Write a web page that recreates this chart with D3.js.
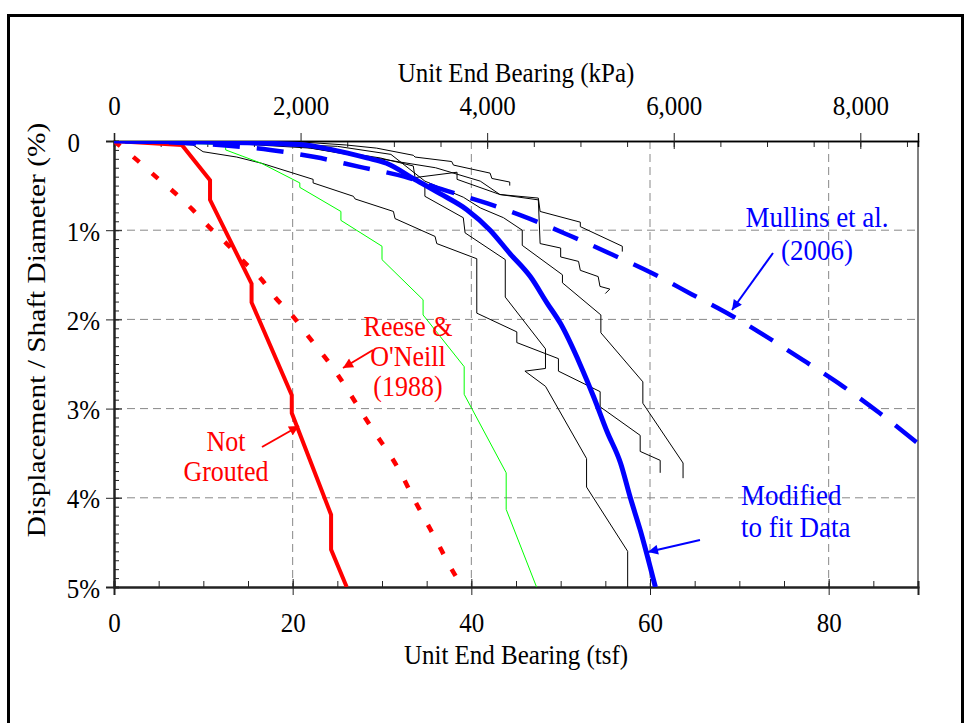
<!DOCTYPE html>
<html>
<head>
<meta charset="utf-8">
<script src="https://cdn.jsdelivr.net/npm/d3@7"></script>
<style>
  body { margin: 0; background: #fff; }
  svg { display: block; font-family: "Liberation Serif", "Times New Roman", serif; }
</style>
</head>
<body>
<svg width="969" height="723"></svg>
<script>
// values: [tsf, displacement %]
var notGrouted = [[0,0],[7.6,0.045],[10.75,0.44],[10.75,0.66],[15.4,1.6],[15.4,1.81],[19.9,2.85],[19.9,3.05],[24.3,4.19],[24.3,4.58],[26.05,5]];
var reeseOneill = [[0,0],[2.65,0.22],[4.8,0.41],[6.8,0.58],[8.8,0.77],[10.6,0.96],[12.6,1.15],[14.5,1.35],[16.5,1.55],[18.1,1.76],[19.9,1.95],[21.6,2.17],[24.9,2.6],[26.4,2.83],[27.9,3.07],[29.4,3.3],[30.9,3.52],[32.2,3.74],[33.5,4.0],[34.8,4.24],[36.1,4.48],[37.4,4.73],[39,5]];
var greenTest = [[0,0],[12.5,0.04],[12.5,0.1],[16.5,0.25],[20.8,0.47],[20.8,0.52],[25.4,0.79],[25.4,0.89],[30,1.18],[30,1.33],[34.6,1.78],[34.6,1.95],[39.2,2.53],[39.2,2.84],[43.9,3.72],[43.9,4.13],[47.3,5.0]];
var testA = [[0,0],[12,0.02],[22,0.08],[29,0.2],[33.5,0.4],[34.8,0.49],[34.8,0.62],[39.1,0.86],[39.3,1.03],[43.8,1.33],[43.8,1.75],[48.3,2.33],[48.3,2.55],[46,2.58],[48.3,2.75],[52.9,3.56],[52.9,3.88],[57.5,4.6],[57.5,5.0]];
var testB = [[0,0],[8.85,0.045],[9.97,0.12],[13.74,0.18],[16.54,0.25],[22.29,0.43],[22.29,0.47],[26.8,0.62],[26.99,0.65],[31.28,0.79],[31.46,0.87],[35.94,1.07],[36.13,1.15],[40.61,1.32],[40.61,1.93],[45.09,2.14],[45.09,2.26],[49.75,2.44],[49.75,2.58],[54.42,2.81],[54.42,2.98],[58.9,3.3],[58.9,3.48],[61.14,3.58],[61.14,3.72]];
var testC = [[0,0],[15,0.02],[25,0.06],[31,0.15],[34.8,0.45],[39.1,0.63],[41,0.75],[43.6,0.86],[45.7,1.0],[45.7,1.17],[50.2,1.5],[50.2,1.59],[54.5,1.95],[54.5,2.15],[59.2,2.7],[59.2,2.94],[63.7,3.61],[63.7,3.78]];
var testD = [[0,0],[12,0.005],[20.8,0.01],[26.0,0.045],[29.4,0.08],[33.5,0.16],[33.7,0.18],[37.8,0.23],[38.0,0.27],[42.1,0.36],[42.3,0.42],[44.3,0.46],[44.3,0.5]];
var testE = [[0,0],[10,0.01],[20.8,0.05],[29.8,0.19],[33.5,0.28],[33.7,0.41],[38.4,0.35],[38.4,0.43],[43.2,0.6],[47.5,0.64],[47.7,0.79],[52.2,0.91],[52.2,0.96],[56.9,1.18],[56.9,1.24]];
var testF = [[0,0],[10,0.01],[20.8,0.06],[29.8,0.2],[36,0.3],[41,0.45],[43.2,0.6],[47.5,0.66],[47.7,1.15],[50,1.2],[50,1.3],[52,1.35],[52.2,1.45],[54.2,1.52],[54.4,1.63],[55.5,1.66],[55,1.71]];
var modifiedFit = [[0,0],[10,0.01],[20.8,0.04],[24.5,0.1],[28.3,0.19],[30.5,0.25],[33.5,0.42],[36.5,0.59],[39.5,0.77],[42.1,1.0],[44.3,1.26],[46.6,1.52],[48.5,1.82],[50.0,2.05],[52.2,2.51],[53.7,2.87],[55.2,3.26],[56.7,3.61],[57.8,4.0],[58.9,4.36],[60.6,5.0]];
var mullins = [[0,0],[12.5,0.05],[17.5,0.1],[22.5,0.18],[27.5,0.29],[32.5,0.4],[37,0.55],[41.8,0.7],[46.5,0.87],[51,1.06],[55.7,1.27],[60.2,1.48],[64.7,1.72],[69,1.95],[73.3,2.21],[77.5,2.48],[81.6,2.75],[85.7,3.05],[90,3.39]];

var tsfTicks = [0, 20, 40, 60, 80];
var kpaTicks = [0, 2000, 4000, 6000, 8000];
var dispTicks = [0, 1, 2, 3, 4, 5];
var kpaPerTsf = 95.76;

var stretch = 1.13; // the source picture is a little taller than wide
var svg = d3.select("svg");
var x = d3.scaleLinear().domain([0, 90]).range([114, 918]);
var xTop = d3.scaleLinear().domain([0, 90 * kpaPerTsf]).range([114, 918]);
var y = d3.scaleLinear().domain([0, 5]).range([141, 587]);

// outer frame
svg.append("rect").attr("x", 8.5).attr("y", 15.5).attr("width", 954).attr("height", 730)
  .attr("fill", "none").attr("stroke", "#000").attr("stroke-width", 3);

// gridlines
var grid = svg.append("g").attr("stroke", "#888").attr("stroke-dasharray", "8,5").attr("stroke-width", 1);
grid.selectAll(".gx").data(tsfTicks.slice(1)).enter().append("line")
  .attr("x1", function(d) { return x(d); }).attr("x2", function(d) { return x(d); })
  .attr("y1", y(0)).attr("y2", y(5));
grid.selectAll(".gy").data(dispTicks.slice(1, 5)).enter().append("line")
  .attr("x1", x(0)).attr("x2", x(90))
  .attr("y1", function(d) { return y(d); }).attr("y2", function(d) { return y(d); });

// right edge
svg.append("line").attr("x1", x(90)).attr("x2", x(90)).attr("y1", y(0)).attr("y2", y(5))
  .attr("stroke", "#555").attr("stroke-width", 1.5);

// axes: minor ticks inside, major ticks crossing
function minorRange(a, b, s) { return d3.range(a, b + s / 2, s); }

var bottomAxis = svg.append("g").attr("transform", "translate(0," + y(5) + ")");
bottomAxis.call(d3.axisBottom(x).tickValues(minorRange(0, 90, 5)).tickSize(-6).tickFormat(""));
var bottomMajor = bottomAxis.append("g")
  .call(d3.axisBottom(x).tickValues(tsfTicks).tickSize(8).tickFormat(d3.format("d")));

var topAxis = svg.append("g").attr("transform", "translate(0," + y(0) + ")");
topAxis.call(d3.axisTop(xTop).tickValues(minorRange(0, 8500, 500)).tickSize(-6).tickFormat(""));
var topMajor = topAxis.append("g")
  .call(d3.axisTop(xTop).tickValues(kpaTicks).tickSize(8).tickFormat(d3.format(",d")));

var leftAxis = svg.append("g").attr("transform", "translate(" + x(0) + ",0)");
leftAxis.call(d3.axisLeft(y).tickValues(minorRange(0, 5, 0.1)).tickSize(-5).tickFormat(""));
var leftMajor = leftAxis.append("g")
  .call(d3.axisLeft(y).tickValues(dispTicks).tickSize(8)
    .tickFormat(function(d) { return d === 0 ? "0" : d + "%"; }));

svg.selectAll(".domain").attr("stroke", "#222").attr("stroke-width", 2);
topAxis.selectAll(".domain").attr("stroke-width", 1.5).attr("stroke", "#000");
svg.selectAll(".tick line").attr("stroke", "#222");
// major ticks go across the axis line
bottomMajor.selectAll(".tick line").attr("y1", -8);
topMajor.selectAll(".tick line").attr("y1", 8);
leftMajor.selectAll(".tick line").attr("x1", 8);
svg.selectAll("g").attr("font-family", null).attr("font-size", null);
svg.selectAll(".tick text").attr("font-size", 25).attr("fill", "#000").attr("x", 0).attr("y", 0).attr("dy", null);
bottomMajor.selectAll(".tick text").attr("transform", "translate(0,45) scale(1," + stretch + ")");
topMajor.selectAll(".tick text").attr("transform", "translate(0,-26) scale(1," + stretch + ")");
leftMajor.selectAll(".tick text").attr("transform", function(d) {
  return "translate(" + (d === 0 ? -34 : -14) + ",10) scale(1," + stretch + ")";
});

function label(str, px, py, size, anchor, color) {
  return svg.append("text").attr("transform", "translate(" + px + "," + py + ") scale(1," + stretch + ")")
    .attr("font-size", size).attr("text-anchor", anchor).attr("fill", color).text(str);
}

// axis titles
label("Unit End Bearing (kPa)", x(45), 82, 25, "middle", "#000");
label("Unit End Bearing (tsf)", x(45), 664, 25, "middle", "#000");
svg.append("text").attr("transform", "translate(45,330) rotate(-90) scale(" + stretch + ",1)")
  .attr("text-anchor", "middle").attr("font-size", 26).text("Displacement / Shaft Diameter (%)");

// curves
var defs = svg.append("defs");
defs.append("clipPath").attr("id", "plot").append("rect")
  .attr("x", x(0)).attr("y", y(0)).attr("width", x(90) - x(0)).attr("height", y(5) - y(0));

var straight = d3.line().x(function(d) { return x(d[0]); }).y(function(d) { return y(d[1]); });
var smooth = d3.line().curve(d3.curveMonotoneX).x(function(d) { return x(d[0]); }).y(function(d) { return y(d[1]); });

var plot = svg.append("g").attr("clip-path", "url(#plot)").attr("fill", "none");
[testA, testB, testC, testD, testE, testF].forEach(function(t) {
  plot.append("path").attr("d", straight(t)).attr("stroke", "#000").attr("stroke-width", 1);
});
plot.append("path").attr("d", straight(greenTest)).attr("stroke", "#00ff00").attr("stroke-width", 1);
plot.append("path").attr("d", straight(notGrouted)).attr("stroke", "#ff0000").attr("stroke-width", 4);
plot.append("path").attr("d", smooth(reeseOneill)).attr("stroke", "#ff0000").attr("stroke-width", 4.5)
  .attr("stroke-dasharray", "8,17");
plot.append("path").attr("d", smooth(mullins)).attr("stroke", "#0000ff").attr("stroke-width", 4.5)
  .attr("stroke-dasharray", "27,17").attr("stroke-dashoffset", 33);
plot.append("path").attr("d", smooth(modifiedFit)).attr("stroke", "#0000ff").attr("stroke-width", 5);

// annotations
["red", "blue"].forEach(function(c) {
  defs.append("marker").attr("id", "arrow-" + c).attr("viewBox", "0 0 10 10").attr("refX", 10).attr("refY", 5)
    .attr("markerWidth", 12).attr("markerHeight", 10).attr("markerUnits", "userSpaceOnUse").attr("orient", "auto")
    .append("path").attr("d", "M0,0L10,5L0,10z").attr("fill", c === "red" ? "#ff0000" : "#0000ff");
});

function note(lines, px, y0, step, size, anchor, color) {
  lines.forEach(function(s, i) { label(s, px, y0 + i * step, size, anchor, color); });
}
function arrow(x1, y1, x2, y2, c) {
  svg.append("line").attr("x1", x1).attr("y1", y1).attr("x2", x2).attr("y2", y2)
    .attr("stroke", c === "red" ? "#ff0000" : "#0000ff").attr("stroke-width", 2)
    .attr("marker-end", "url(#arrow-" + c + ")");
}

note(["Mullins et al.", "(2006)"], 817, 227, 33, 27, "middle", "#0000ff");
arrow(773, 253, 732, 310, "blue");
note(["Reese &", "O'Neill", "(1988)"], 408, 336, 30, 26, "middle", "#ff0000");
arrow(373, 350, 343, 368, "red");
note(["Not", "Grouted"], 226, 451, 30, 26, "middle", "#ff0000");
arrow(262, 447, 299, 426, "red");
note(["Modified", "to fit Data"], 741, 505, 32, 27, "start", "#0000ff");
arrow(700, 540, 648, 552, "blue");
</script>
</body>
</html>
